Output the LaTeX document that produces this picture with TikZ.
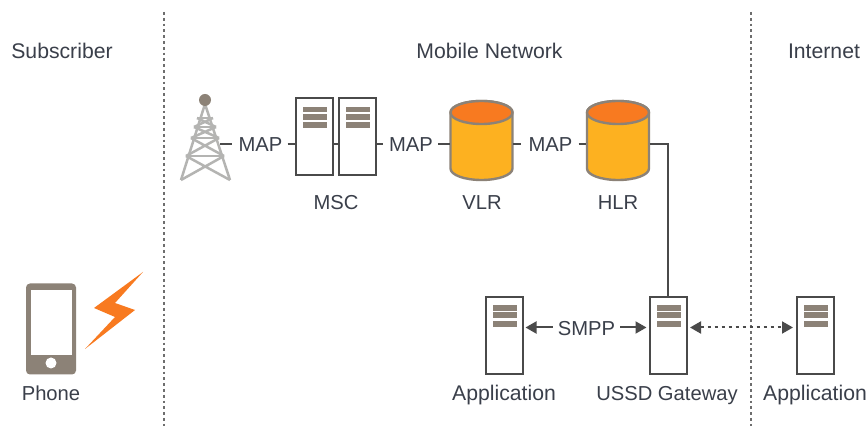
\documentclass[tikz,border=0pt]{standalone}
\usepackage{fontspec}
\setmainfont{Liberation Sans}
\usetikzlibrary{arrows.meta}
\definecolor{txt}{HTML}{3A3F4A}
\definecolor{edge}{HTML}{4A4A4A}
\definecolor{taupe}{HTML}{8C8277}
\definecolor{towerc}{HTML}{B4B4B2}
\definecolor{gold}{HTML}{FDB120}
\definecolor{tang}{HTML}{F87A20}
\definecolor{divc}{HTML}{6E6E6E}
\tikzset{
  x=1pt,y=-1pt,
  lbl/.style={text=txt,font=\fontsize{20.2}{24}\selectfont,inner sep=0pt,anchor=base},
  lblw/.style={lbl,font=\fontsize{21.2}{24}\selectfont},
  conn/.style={edge,line width=1.7pt},
  divider/.style={divc,line width=2.8pt,dash pattern=on 2.8pt off 3pt},
  server/.style={draw=edge,line width=2pt,fill=white,minimum width=37pt,minimum height=77pt,inner sep=0pt,
    path picture={
      \fill[taupe] ([xshift=7pt,yshift=-8.5pt]path picture bounding box.north west) rectangle +(24pt,-5.5pt);
      \fill[taupe] ([xshift=7pt,yshift=-15.5pt]path picture bounding box.north west) rectangle +(24pt,-6pt);
      \fill[taupe] ([xshift=7pt,yshift=-24pt]path picture bounding box.north west) rectangle +(24pt,-6pt);
    }},
  dbslot/.style={minimum width=63pt,minimum height=79pt,inner sep=0pt},
  db/.pic={
    \draw[taupe,line width=2.4pt,fill=gold,line join=round] (-31,112.5) -- (-31,168.5)
      .. controls (-31,175) and (-17,180) .. (0,180)
      .. controls (17,180) and (31,175) .. (31,168.5) -- (31,112.5)
      .. controls (31,106) and (17,101) .. (0,101)
      .. controls (-17,101) and (-31,106) .. (-31,112.5) -- cycle;
    \draw[taupe,line width=2.4pt,fill=tang] (-31,112.5)
      .. controls (-31,106) and (-17,101) .. (0,101)
      .. controls (17,101) and (31,106) .. (31,112.5)
      .. controls (31,119) and (17,124) .. (0,124)
      .. controls (-17,124) and (-31,119) .. (-31,112.5) -- cycle;
  },
  twr/.style={towerc,line width=2.5pt},
  biarrow/.style={edge,line width=2pt,{Triangle[length=11pt,width=12pt]}-{Triangle[length=11pt,width=12pt]}},
  onearrow/.style={edge,line width=2pt,-{Triangle[length=11pt,width=12pt]}}
}
\begin{document}
\begin{tikzpicture}
\useasboundingbox (0,0) rectangle (868,427);
\fill[white] (0,0) rectangle (868,427);
% dividers
\coordinate (d1t) at (164,12); \coordinate (d1b) at (164,426);
\coordinate (d2t) at (751,12); \coordinate (d2b) at (751,426);
\draw[divider] (d1t) -- (d1b);
\draw[divider] (d2t) -- (d2b);
% headings
\node[lblw] (hsub) at (62,58.5) {Subscriber};
\node[lblw] (hmob) at (489.5,58.5) {Mobile Network};
\node[lblw] (hint) at (824,58.5) {Internet};
% tower
\begin{scope}[twr,line join=round]
\draw (205,104) -- (181,180) (205,104) -- (230,180);
\draw (197,118) -- (213,118) (194,127) -- (216,127) (191,138) -- (219,138) (186,156) -- (224,156);
\draw (197,118) -- (216,127) (213,118) -- (194,127);
\draw (194,127) -- (219,138) (216,127) -- (191,138);
\draw (191,138) -- (224,156) (219,138) -- (186,156);
\draw (186,156) -- (230,180) (224,156) -- (181,180);
\end{scope}
\fill[taupe] (205,100) circle (6);
\coordinate (tower) at (220,144);
\coordinate (arrowy) at (0,327.5);
% top row
\node[lbl] (map1) at (260.5,152) {MAP};
\node[server] (msca) at (314,137) {};
\node[server] (mscb) at (357,137) {};
\node[lbl] (map2) at (411,152) {MAP};
\pic at (481.5,0) {db};
\node[dbslot] (vlr) at (481.5,140.5) {};
\node[lbl] (map3) at (550.5,152) {MAP};
\pic at (618,0) {db};
\node[dbslot] (hlr) at (618,140.5) {};
\node[lbl] (lmsc) at (336,210) {MSC};
\node[lbl] (lvlr) at (482,210) {VLR};
\node[lbl] (lhlr) at (618,210) {HLR};
% bottom row
\node[server] (app1) at (504,335.5) {};
\node[server] (ussd) at (668,335.5) {};
\node[server] (app2) at (815,335.5) {};
\node[lbl] (smpp) at (586.5,336) {SMPP};
\node[lblw] (lapp1) at (504,401) {Application};
\node[lbl] (lussd) at (667,401) {USSD Gateway};
\node[lblw] (lapp2) at (815,401) {Application};
% phone
\node[draw=none,fill=taupe,rounded corners=4pt,minimum width=50pt,minimum height=91pt,inner sep=0pt] (phone) at (51,329) {};
\fill[white] (31,290) rectangle (72,355);
\fill[white] (51,363) circle (5.5);
\fill[tang] (143,272) -- (94,308) -- (115,317) -- (85,349) -- (135,310) -- (115,303) -- cycle;
\node[lbl] (lphone) at (51,401) {Phone};
% connectors
\draw[conn] (tower) -- ([xshift=-6pt]map1.west |- tower);
\draw[conn] ([xshift=5pt]map1.east |- tower) -- (msca.west |- tower);
\draw[conn] (msca.east |- tower) -- (mscb.west |- tower);
\draw[conn] (mscb.east |- tower) -- ([xshift=-6pt]map2.west |- tower);
\draw[conn] ([xshift=5pt]map2.east |- tower) -- (vlr.west |- tower);
\draw[conn] (vlr.east |- tower) -- ([xshift=-7pt]map3.west |- tower);
\draw[conn] ([xshift=6pt]map3.east |- tower) -- (hlr.west |- tower);
\draw[conn] (hlr.east |- tower) -| (ussd.north);
\draw[onearrow] ([xshift=-5pt]smpp.west |- arrowy) -- ([xshift=2pt]app1.east |- arrowy);
\draw[onearrow] ([xshift=5pt]smpp.east |- arrowy) -- ([xshift=-2pt]ussd.west |- arrowy);
\draw[biarrow,dash pattern=on 3.5pt off 3.5pt] ([xshift=2.5pt]ussd.east |- arrowy) -- ([xshift=-2.5pt]app2.west |- arrowy);
\end{tikzpicture}
\end{document}
